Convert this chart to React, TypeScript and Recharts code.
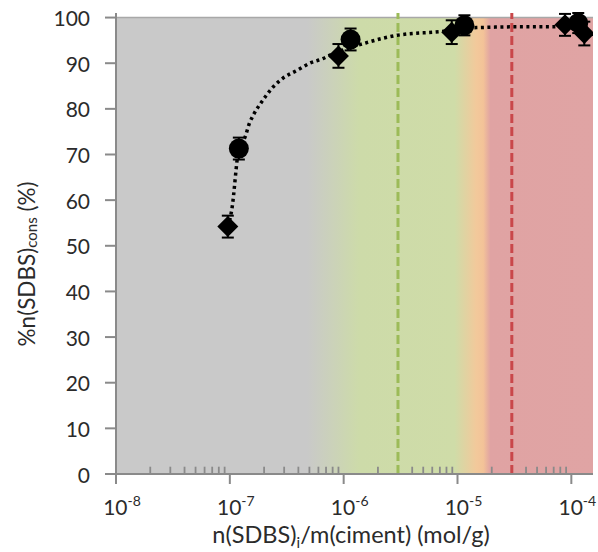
import React from "react";
import {
  ComposedChart,
  XAxis,
  YAxis,
  Scatter,
  Line,
  ErrorBar,
  ReferenceArea,
  ReferenceLine,
} from "recharts";

// measured points (mol/g, %)
const diamondX = [9.6e-8, 9.0e-7, 8.9e-6, 8.8e-5, 1.3e-4];
const diamondY = [54.2, 91.6, 96.8, 98.4, 96.5];
const diamondErr = [2.4, 2.6, 2.6, 2.4, 2.6];

const circleX = [1.2e-7, 1.15e-6, 1.15e-5, 1.15e-4];
const circleY = [71.3, 95.2, 98.3, 98.8];
const circleErr = [2.4, 2.4, 2.2, 2.2];

// fitted curve
const trendX = [
  9.6e-8, 1.04e-7, 1.2e-7, 1.36e-7, 1.5e-7, 1.59e-7, 1.95e-7, 2.38e-7, 2.92e-7,
  3.87e-7, 5.04e-7, 6.55e-7, 7.5e-7, 1.59e-6, 2.92e-6, 6.95e-6, 1.47e-5, 4.55e-5,
  7.85e-5, 1.2e-4,
];
const trendY = [
  54.1, 57.9, 71.2, 73.8, 77.1, 78.4, 81.9, 84.7, 86.7, 88.4, 90.0, 91.0, 91.7,
  94.5, 96.1, 96.9, 97.8, 98.0, 98.0, 98.0,
];

const xMajorTicks = [1e-8, 1e-7, 1e-6, 1e-5, 1e-4];
const xExponents = ["-8", "-7", "-6", "-5", "-4"];
const yTicks = [0, 10, 20, 30, 40, 50, 60, 70, 80, 90, 100];
const xMinorTicks = [1e-8, 1e-7, 1e-6, 1e-5].flatMap((d) =>
  [2, 3, 4, 5, 6, 7, 8, 9].map((m) => m * d)
);

const xMin = 1e-8;
const xMax = 1.55e-4;
const greenLimit = 3e-6;
const redLimit = 3e-5;

const diamonds = diamondX.map((x, i) => ({ x, y: diamondY[i], e: diamondErr[i] }));
const circles = circleX.map((x, i) => ({ x, y: circleY[i], e: circleErr[i] }));
const trend = trendX.map((x, i) => ({ x, y: trendY[i] }));

const FONT = "Lato, 'Open Sans', sans-serif";
const AXIS = "#8a8a8a";
const TEXT = "#2b2b2b";

const Diamond = (props: any) => {
  const { cx, cy } = props;
  if (cx == null || cy == null) return null;
  const r = 10.5;
  return (
    <polygon
      points={`${cx},${cy - r} ${cx + r},${cy} ${cx},${cy + r} ${cx - r},${cy}`}
      fill="#000"
    />
  );
};

const Dot = (props: any) => {
  const { cx, cy } = props;
  if (cx == null || cy == null) return null;
  return <circle cx={cx} cy={cy} r={10} fill="#000" />;
};

const XTick = (props: any) => {
  const { x, y, index } = props;
  return (
    <text x={x + 6} y={y + 29} textAnchor="middle" fontFamily={FONT} fill={TEXT}>
      <tspan fontSize={21}>10</tspan>
      <tspan fontSize={14} dy={-9}>
        {xExponents[index]}
      </tspan>
    </text>
  );
};

const YTick = (props: any) => {
  const { x, y, payload } = props;
  return (
    <text
      x={x}
      y={y}
      textAnchor="end"
      dominantBaseline="central"
      fontFamily={FONT}
      fontSize={21}
      fill={TEXT}
    >
      {payload.value}
    </text>
  );
};

export default function App() {
  return (
    <div style={{ position: "absolute", left: 0, top: 0, width: 598, height: 552, background: "#fff" }}>
      <ComposedChart
        width={598}
        height={552}
        margin={{ top: 13, right: 5, bottom: 28, left: 36 }}
      >
        <defs>
          <linearGradient id="zones" x1="0" y1="0" x2="1" y2="0">
            <stop offset="0" stopColor="#c9c9c9" />
            <stop offset="0.4" stopColor="#c9c9c9" />
            <stop offset="0.51" stopColor="#cddba9" />
            <stop offset="0.71" stopColor="#cfdca8" />
            <stop offset="0.755" stopColor="#f2c99b" />
            <stop offset="0.77" stopColor="#f3c398" />
            <stop offset="0.785" stopColor="#e0a3a3" />
            <stop offset="1" stopColor="#e0a4a4" />
          </linearGradient>
        </defs>
        <XAxis
          dataKey="x"
          type="number"
          scale="log"
          domain={[xMin, xMax]}
          allowDataOverflow
          ticks={xMajorTicks}
          tick={<XTick />}
          tickSize={10}
          stroke={AXIS}
          strokeWidth={2}
          height={50}
          label={{
            position: "insideBottom",
            content: () => (
              <text x={351} y={543} textAnchor="middle" fontFamily={FONT} fontSize={23.5} fill={TEXT}>
                n(SDBS)
                <tspan fontSize={15} dy={5}>i</tspan>
                <tspan dy={-5}>/m(ciment) (mol/g)</tspan>
              </text>
            ),
          }}
        />
        <YAxis
          type="number"
          domain={[0, 100]}
          ticks={yTicks}
          interval={0}
          tick={<YTick />}
          tickSize={11}
          tickMargin={15}
          stroke={AXIS}
          strokeWidth={2}
          width={80}
          label={{
            position: "insideLeft",
            content: () => (
              <text
                x={26}
                y={264}
                transform="rotate(-90 26 264)"
                textAnchor="middle"
                dominantBaseline="central"
                fontFamily={FONT}
                fontSize={22.5}
                fill={TEXT}
              >
                %n(SDBS)
                <tspan fontSize={15} dy={5}>cons</tspan>
                <tspan dy={-5}> (%)</tspan>
              </text>
            ),
          }}
        />
        <ReferenceArea x1={xMin} x2={xMax} y1={0} y2={100} fill="url(#zones)" fillOpacity={1} stroke="none" />
        <ReferenceLine y={100} stroke="#a8a8a8" strokeWidth={1.5} />
        {xMinorTicks.map((v) => (
          <ReferenceLine
            key={v}
            segment={[
              { x: v, y: 0 },
              { x: v, y: 1.6 },
            ]}
            stroke={AXIS}
            strokeWidth={1.8}
          />
        ))}
        <ReferenceLine x={greenLimit} stroke="#9cbb58" strokeWidth={3} strokeDasharray="9 4" />
        <ReferenceLine x={redLimit} stroke="#c9474a" strokeWidth={3} strokeDasharray="9 4" />
        <Line
          data={trend}
          dataKey="y"
          type="monotone"
          stroke="#000"
          strokeWidth={3.5}
          strokeDasharray="3 3.5"
          dot={false}
          activeDot={false}
          isAnimationActive={false}
        />
        <Scatter data={diamonds} dataKey="y" shape={<Diamond />} isAnimationActive={false}>
          <ErrorBar dataKey="e" direction="y" width={6} stroke="#000" strokeWidth={2} />
        </Scatter>
        <Scatter data={circles} dataKey="y" shape={<Dot />} isAnimationActive={false}>
          <ErrorBar dataKey="e" direction="y" width={6} stroke="#000" strokeWidth={2} />
        </Scatter>
      </ComposedChart>
    </div>
  );
}
